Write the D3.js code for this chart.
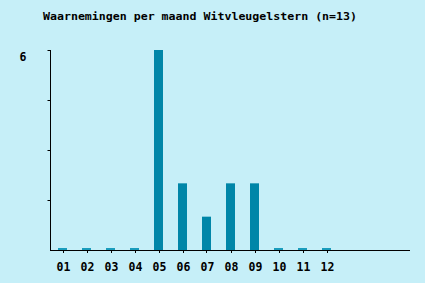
<!DOCTYPE html>
<html><head><meta charset="utf-8">
<script src="https://cdn.jsdelivr.net/npm/d3@7"></script>
<style>body{margin:0;background:#c6eff8;}svg{display:block;}</style>
</head><body>
<script>
const months = ["01","02","03","04","05","06","07","08","09","10","11","12"];
const counts = [0,0,0,0,6,2,1,2,2,0,0,0];
const yTicks = [1.5,3,4.5,6];
const yLabels = [6];
const title = "Waarnemingen per maand Witvleugelstern (n=13)";

const W=425,H=283;
const svg=d3.select("body").append("svg").attr("width",W).attr("height",H);
svg.append("rect").attr("width",W).attr("height",H).attr("fill","#c6eff8");
const font="'DejaVu Sans Mono', monospace";

const x=d3.scaleLinear().domain([1,12]).range([62.5,326.5]);
const y=d3.scaleLinear().domain([0,6]).range([250,50]);
const bw=9;

svg.append("text").attr("x",43).attr("y",20).attr("font-family",font).attr("font-weight","bold")
  .attr("font-size",11.3).attr("textLength",314).attr("lengthAdjust","spacingAndGlyphs").attr("fill","#000").text(title);

// bars
svg.selectAll("rect.bar").data(counts).enter().append("rect")
  .attr("x",(d,i)=>x(i+1)-bw/2).attr("width",bw)
  .attr("y",d=>d>0?y(d):y(0)-2).attr("height",d=>d>0?y(0)-y(d):2)
  .attr("fill",d=>d>0?"#0086a8":"#1a9cbc");

// y axis
const ya=svg.append("g").attr("transform","translate(50.5,0)");
ya.append("line").attr("x1",0).attr("x2",0).attr("y1",y(6)).attr("y2",y(0)+0.5).attr("stroke","#000");
ya.selectAll("line.t").data(yTicks).enter().append("line")
  .attr("x1",-3).attr("x2",0).attr("y1",d=>Math.round(y(d))+0.5).attr("y2",d=>Math.round(y(d))+0.5).attr("stroke","#000");
ya.selectAll("text").data(yLabels).enter().append("text")
  .attr("x",-27.5).attr("y",d=>y(d)+11).attr("text-anchor","middle").attr("font-family",font).attr("font-weight","bold")
  .attr("font-size",11.5).attr("fill","#000").text(d=>d);

// x axis
const xa=svg.append("g");
xa.append("line").attr("x1",50).attr("x2",410).attr("y1",250.5).attr("y2",250.5).attr("stroke","#000");
xa.selectAll("line.t").data(months).enter().append("line")
  .attr("x1",(d,i)=>Math.round(x(i+1))+0.5).attr("x2",(d,i)=>Math.round(x(i+1))+0.5)
  .attr("y1",250.5).attr("y2",253).attr("stroke","#000");
xa.selectAll("text").data(months).enter().append("text")
  .attr("x",(d,i)=>x(i+1)+1).attr("y",271).attr("text-anchor","middle").attr("font-family",font).attr("font-weight","bold")
  .attr("font-size",11.5).attr("fill","#000").text(d=>d);
</script>
</body></html>
